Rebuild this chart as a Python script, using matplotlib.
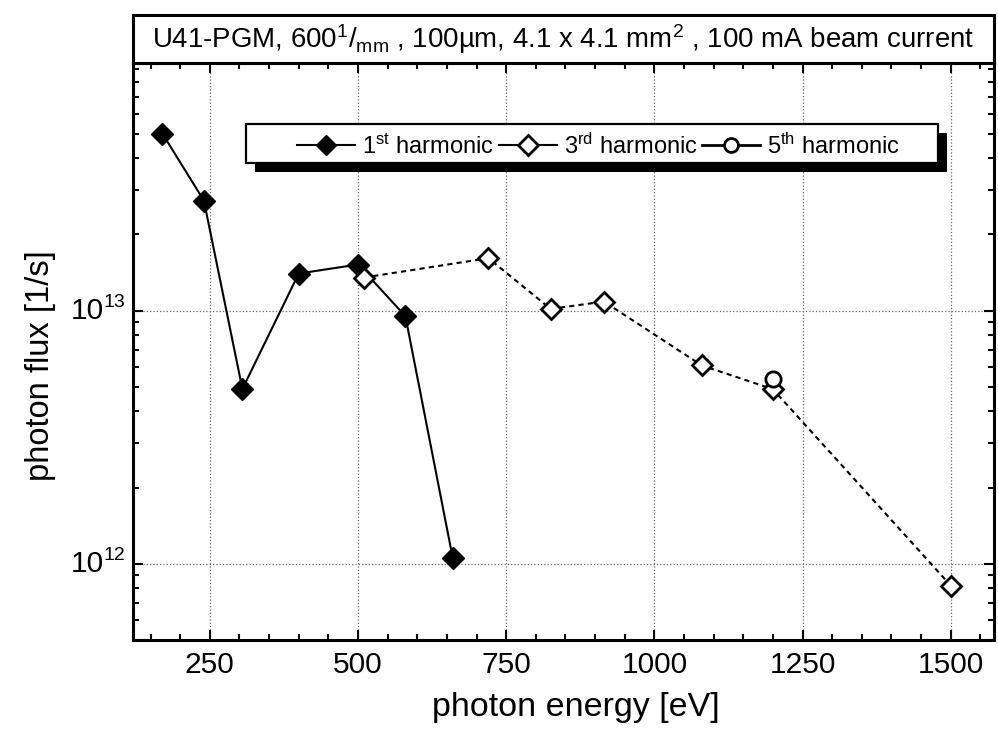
import math
import matplotlib
matplotlib.use('Agg')
import matplotlib.pyplot as plt
import matplotlib.transforms as mtransforms
from matplotlib.ticker import MultipleLocator, LogLocator, NullFormatter
from matplotlib.lines import Line2D
from matplotlib.patches import Rectangle

plt.rcParams['font.family'] = ['Liberation Sans', 'DejaVu Sans']
plt.rcParams['mathtext.fontset'] = 'custom'
plt.rcParams['mathtext.rm'] = 'Liberation Sans'
plt.rcParams['mathtext.it'] = 'Liberation Sans:italic'
plt.rcParams['mathtext.bf'] = 'Liberation Sans:bold'

# photon energy [eV] / photon flux [1/s]
e1 = [170, 240, 305, 400, 500, 580, 660]
f1 = [5.0e13, 2.72e13, 4.9e12, 1.40e13, 1.52e13, 9.5e12, 1.05e12]

e3 = [510, 720, 825, 915, 1080, 1200, 1500]
f3 = [1.35e13, 1.61e13, 1.015e13, 1.085e13, 6.07e12, 4.89e12, 8.2e11]

e5 = [1200]
f5 = [5.38e12]

labels = [r'1$^{\mathregular{st}}$ harmonic',
          r'3$^{\mathregular{rd}}$ harmonic',
          r'5$^{\mathregular{th}}$ harmonic']
xticks = [250, 500, 750, 1000, 1250, 1500]
yticks = [1e12, 1e13]
title = (r'U41-PGM, 600$^{\mathregular{1}}$/$_{\mathregular{mm}}$ , 100µm, '
         r'4.1 x 4.1 mm$^{\mathregular{2}}$ , 100 mA beam current')

fig = plt.figure(figsize=(9.98, 7.35), dpi=100)
ax = fig.add_axes([0.133, 0.1293, 0.863, 0.785])

ax.plot(e1, f1, color='black', lw=1.5, marker='D', ms=11,
        mfc='black', mec='black', zorder=3)
ax.plot(e3, f3, color='black', lw=1.5, ls=(0, (2.5, 2)), marker='D', ms=10.5,
        mfc='white', mec='black', mew=2, zorder=3)
ax.plot(e5, f5, color='black', lw=1.5, marker='o', ms=11,
        mfc='white', mec='black', mew=2, zorder=3)

ax.set_yscale('log')
ax.set_xlim(120, 1573)
ax.set_ylim(5e11, 9.5e13)
ax.set_xticks(xticks)
ax.xaxis.set_minor_locator(MultipleLocator(50))
ax.set_yticks(yticks)
ax.yaxis.set_minor_locator(LogLocator(base=10, subs=range(2, 10)))
ax.yaxis.set_major_formatter(NullFormatter())
ax.yaxis.set_minor_formatter(NullFormatter())

ax.tick_params(which='both', direction='in', top=True, right=True,
               labelsize=21.5, width=1.5)
ax.tick_params(which='major', length=7.5)
ax.tick_params(which='minor', length=4)
ax.tick_params(axis='x', pad=8)
for s in ax.spines.values():
    s.set_linewidth(2.2)

# y tick labels as "10" with a small raised exponent
trans = mtransforms.blended_transform_factory(ax.transAxes, ax.transData)
for v in yticks:
    ax.text(-0.034, v, '10', ha='right', va='center', fontsize=21.5,
            transform=trans)
    ax.text(-0.034, v, str(int(round(math.log10(v)))), ha='left',
            va='bottom', fontsize=14, transform=trans)

ax.grid(True, which='major', color='#666666', ls=':', lw=0.9)

ax.set_xlabel('photon energy [eV]', fontsize=24.5)
ax.set_ylabel('photon flux [1/s]', fontsize=23.5)
ax.xaxis.set_label_coords(0.515, -0.09)
ax.yaxis.set_label_coords(-0.089, 0.476)

handles = [
    Line2D([], [], color='black', lw=1.5, marker='D', ms=10, mfc='black', mec='black'),
    Line2D([], [], color='black', lw=1.5, marker='D', ms=10, mfc='white', mec='black', mew=2),
    Line2D([], [], color='black', lw=2, marker='o', ms=10, mfc='white', mec='black', mew=2),
]
leg = ax.legend(handles, labels, loc='center left', bbox_to_anchor=(0.1908, 0.856),
                borderaxespad=0, borderpad=0, ncol=3, fontsize=17, handlelength=2.45,
                handletextpad=0.3, columnspacing=0.2, frameon=False)
leg.set_zorder(7)

# legend box with a black drop shadow
bx0, bx1 = 0.1312, 0.935
by0, by1 = 0.8262, 0.8938
dx, dy = 9 / 861.3, 9 / 577
ax.add_patch(Rectangle((bx0 + dx, by0 - dy), bx1 - bx0, by1 - by0,
                       transform=ax.transAxes, facecolor='black',
                       edgecolor='none', zorder=5.5, clip_on=False))
ax.add_patch(Rectangle((bx0, by0), bx1 - bx0, by1 - by0,
                       transform=ax.transAxes, facecolor='white',
                       edgecolor='black', lw=1.6, zorder=6, clip_on=False))

# title box above the plot
tax = fig.add_axes([0.133, 0.9143, 0.863, 0.0653])
tax.set_xticks([])
tax.set_yticks([])
for s in tax.spines.values():
    s.set_linewidth(2.2)
tax.text(0.5, 0.5, title, ha='center', va='center', fontsize=19.9,
         transform=tax.transAxes)

fig.savefig('out.png', dpi=100)
